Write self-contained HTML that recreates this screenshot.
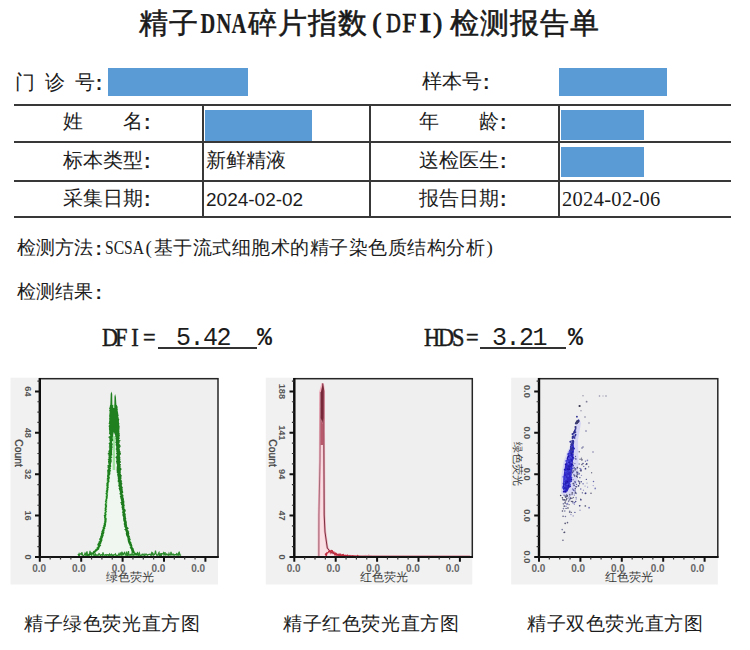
<!DOCTYPE html>
<html><head><meta charset="utf-8">
<style>
html,body{margin:0;padding:0;}
body{width:750px;height:650px;background:#fff;position:relative;overflow:hidden;font-family:"Liberation Sans",sans-serif;color:#1c1c1c;}
.t{position:absolute;white-space:nowrap;line-height:1;}
.title{top:8px;font-family:"Liberation Serif",serif;font-weight:normal;-webkit-text-stroke:0.5px #111;font-size:29px;letter-spacing:1px;}
.tl span{display:inline-block;width:16.4px;text-align:center;transform:scaleX(0.72);font-weight:bold;font-size:28px;letter-spacing:0;-webkit-text-stroke:0.2px #111;}
.f{font-size:19.5px;}
.box{position:absolute;background:#5b9bd5;}
.hl{position:absolute;left:14px;width:717px;height:2px;background:#383838;}
.vl{position:absolute;top:104px;width:2px;height:114px;background:#383838;}
.d{font-size:19px;}
.m{font-family:"Liberation Mono",monospace;}
.ul{position:absolute;height:1.5px;background:#333;}
.g{font-size:19px;}
.sc span{display:inline-block;transform-origin:0 0;font-family:"Liberation Serif",serif;font-size:19.5px;}
.sf{font-family:"Liberation Serif",serif;font-size:26px;-webkit-text-stroke:0.5px #1c1c1c;}
.sf span{display:inline-block;width:13.9px;text-align:center;transform:scaleX(0.86);}
.cl{position:relative;top:1px;font-weight:bold;margin-left:1px;}
.dna span{width:15.8px;font-size:30px;transform:scaleX(0.68);}
.dfi span{font-weight:normal;-webkit-text-stroke:0.75px #111;}
.cap{font-size:19px;letter-spacing:0.6px;}
svg{position:absolute;left:0;top:0;}
</style></head><body>
<div class="t title" style="left:138.5px;top:9px;">精子</div>
<div class="t title tl dna" style="left:197.8px;"><span>D</span><span>N</span><span>A</span></div>
<div class="t title" style="left:247.8px;top:9px;">碎片指数</div>
<div class="t title tl dfi" style="left:367.8px;"><span style="transform:none;position:relative;left:1px">(</span><span style="position:relative;left:-0.5px">D</span><span style="transform:scaleX(0.9)">F</span><span style="transform:scaleX(1.3);position:relative;left:0.5px">I</span><span style="transform:none;position:relative;left:-4px">)</span></div>
<div class="t title" style="left:449.6px;top:9px;">检测报告单</div>

<div class="t f" style="left:15px;top:73px;word-spacing:4.5px;">门 诊 号<span class="cl">:</span></div>
<div class="box" style="left:108px;top:68px;width:140px;height:28px;"></div>
<div class="t f" style="left:422px;top:72px;">样本号<span class="cl">:</span></div>
<div class="box" style="left:559px;top:68px;width:108px;height:28px;"></div>

<div class="hl" style="top:103.5px"></div>
<div class="hl" style="top:141px"></div>
<div class="hl" style="top:179.5px"></div>
<div class="hl" style="top:216px"></div>
<div class="vl" style="left:202px"></div>
<div class="vl" style="left:368.5px"></div>
<div class="vl" style="left:558px"></div>

<div class="t f" style="left:63px;top:112px;">姓&#12288;&#12288;名<span class="cl">:</span></div>
<div class="box" style="left:205px;top:110px;width:107px;height:31px;"></div>
<div class="t f" style="left:419px;top:112px;">年&#12288;&#12288;龄<span class="cl">:</span></div>
<div class="box" style="left:561px;top:110px;width:83px;height:30px;"></div>

<div class="t f" style="left:63px;top:151px;">标本类型<span class="cl">:</span></div>
<div class="t f" style="left:205.5px;top:151px;">新鲜精液</div>
<div class="t f" style="left:419px;top:151px;">送检医生<span class="cl">:</span></div>
<div class="box" style="left:561px;top:147px;width:83px;height:30px;"></div>

<div class="t f" style="left:63px;top:189px;">采集日期<span class="cl">:</span></div>
<div class="t d" style="left:206px;top:190px;">2024-02-02</div>
<div class="t f" style="left:419px;top:189px;">报告日期<span class="cl">:</span></div>
<div class="t" style="left:562px;top:189px;font-size:20.5px;font-family:'Liberation Serif',serif;letter-spacing:0.3px;">2024-02-06</div>

<div class="t g" style="left:16.5px;top:238px;">检测方法<span class="cl" style="margin-left:3px">:</span></div>
<div class="t g sc" style="left:105px;top:238px;"><span style="transform:scaleX(0.80)">SCSA</span></div>
<div class="t g" style="left:145.5px;top:238px;font-family:'Liberation Serif',serif;">(</div>
<div class="t g" style="left:153.5px;top:238px;letter-spacing:0.5px;">基于流式细胞术的精子染色质结构分析</div>
<div class="t g" style="left:486.5px;top:238px;font-family:'Liberation Serif',serif;">)</div>
<div class="t g" style="left:16.5px;top:281.5px;">检测结果<span class="cl" style="margin-left:3px">:</span></div>

<div class="t sf" style="left:100.5px;top:325px;"><span>D</span><span>F</span><span>I</span><span>=</span></div>
<div class="t m" style="left:176px;top:326px;font-size:25px;letter-spacing:-1.5px;">5.42</div>
<div class="t m" style="left:257px;top:326px;font-size:25px;font-weight:bold;">%</div>
<div class="ul" style="left:158px;top:347px;width:99px;"></div>
<div class="t sf" style="left:422.5px;top:325px;"><span style="width:14.2px">H</span><span style="width:14.2px">D</span><span style="width:14.2px">S</span><span style="width:14.2px">=</span></div>
<div class="t m" style="left:492px;top:326px;font-size:25px;letter-spacing:-1.5px;">3.21</div>
<div class="t m" style="left:568px;top:326px;font-size:25px;font-weight:bold;">%</div>
<div class="ul" style="left:480px;top:347px;width:86px;"></div>

<div class="t cap" style="left:24px;top:614px;">精子绿色荧光直方图</div>
<div class="t cap" style="left:283px;top:614px;">精子红色荧光直方图</div>
<div class="t cap" style="left:527px;top:614px;">精子双色荧光直方图</div>

<!--CHARTS-->
<svg width="750" height="650" viewBox="0 0 750 650" style="position:absolute;left:0;top:0">
<rect x="10.5" y="377.7" width="207.5" height="206.8" fill="#f1f1f1"/>
<rect x="39.8" y="378.7" width="178.2" height="178.3" fill="#efefef"/>
<rect x="265.8" y="377.7" width="206.5" height="206.8" fill="#f1f1f1"/>
<rect x="294.3" y="378.7" width="178" height="178.3" fill="#efefef"/>
<rect x="511.2" y="377.7" width="206.6" height="206.8" fill="#f1f1f1"/>
<rect x="539" y="378.7" width="178.8" height="178.3" fill="#efefef"/>
<path d="M111.2,406 L111.14,409 L111.07,412 L111.01,415 L110.95,418 L110.88,421 L110.82,424 L110.85,427 L110.93,430 L111.01,433 L111.09,436 L111.17,439 L111.06,442 L110.86,445 L110.66,448 L110.45,451 L110.25,454 L110.05,457 L109.84,460 L109.64,463 L109.44,466 L109.19,469 L108.88,472 L108.56,475 L108.24,478 L107.92,481 L107.6,484 L107.37,487 L107.14,490 L106.91,493 L106.69,496 L106.46,499 L106.23,502 L106,505 L105.87,508 L105.73,511 L105.6,514 L105.47,517 L105.33,520 L105.2,523 L104.44,526 L103.69,529 L102.93,532 L102.18,535 L101.34,538 L100.42,541 L99.5,544 L98.58,547 L96.22,550 L93.5,553 L86,556 L140,556 L133.5,553 L132.39,550 L131.31,547 L130.36,544 L129.42,541 L128.47,538 L127.69,535 L127.07,532 L126.44,529 L125.82,526 L125.2,523 L124.83,520 L124.47,517 L124.1,514 L123.73,511 L123.37,508 L123,505 L122.57,502 L122.14,499 L121.71,496 L121.29,493 L120.86,490 L120.43,487 L120,484 L119.76,481 L119.52,478 L119.28,475 L119.04,472 L118.8,469 L118.68,466 L118.55,463 L118.43,460 L118.3,457 L118.18,454 L118.06,451 L117.93,448 L117.81,445 L117.68,442 L117.6,439 L117.6,436 L117.6,433 L117.6,430 L117.6,427 L117.52,424 L117.26,421 L117.01,418 L116.76,415 L116.51,412 L116.25,409 L116,406Z" fill="#f0f6f0" stroke="#a6eaa6" stroke-width="2.6" stroke-linejoin="round"/>
<path d="M78,554.01 L78.5,555.11 L79,553.87 L79.5,555.51 L80,554.02 L80.5,553.92 L81,553.61 L81.5,554.32 L82,552.26 L82.5,555.22 L83,555.48 L83.5,555.41 L84,555.24 L84.5,554.7 L85,553.27 L85.5,554.69 L86,553.68 L86.5,555.6 L87,551.31 L87.5,555.54 L88,555.23 L88.5,554.74 L89,555.47 L89.5,554.29 L90,550.93 L90.5,554.94 L91,552.02 L91.5,554.92 L92,554.05 L92.5,553.96 L93,553.94 L93.5,552.69 L94,555.59 L94.5,555 L95,554.87 L95.5,554.1 L96,555.52 L96.5,554.92 L97,554.81 L97.5,555.17 L98,555.24 L98.5,554.55 L99,553.59 L99.5,554.03 L100,554.7 L100.5,555.54 L101,555.08 L101.5,554.64 L102,554.76 L102.5,555.12 L103,552.45 L103.5,554.65 L104,555.05 L104.5,554.99 L105,555.19 L105.5,554.7 L106,554.8 L106.5,555.29 L107,554.52 L107.5,554.78 L108,554.67 L108.5,555.38 L109,554.82 L109.5,554.03 L110,555.51 L110.5,555.12 L111,554.52 L111.5,554.16 L112,555.53 L112.5,555.37 L113,554.85 L113.5,555.3 L114,554.77 L114.5,554.69 L115,554.5 L115.5,553.94 L116,555.36 L116.5,555.55 L117,555.34 L117.5,555.54 L118,555.46 L118.5,554.47 L119,553.56 L119.5,554.99 L120,554.94 L120.5,553.39 L121,554.49 L121.5,553.03 L122,554.95 L122.5,553.09 L123,554.33 L123.5,554.44 L124,552.97 L124.5,552.44 L125,553.98 L125.5,554.23 L126,555.31 L126.5,551.53 L127,554.67 L127.5,555.49 L128,553.4 L128.5,551.12 L129,555.22 L129.5,554.81 L130,554.85 L130.5,554.41 L131,555.16 L131.5,554.85 L132,553.3 L132.5,554.23 L133,555.31 L133.5,554.96 L134,554.41 L134.5,553.93 L135,554.91 L135.5,554.36 L136,554.04 L136.5,554.66 L137,553.64 L137.5,552.48 L138,553.01 L138.5,555.08 L139,554.59 L139.5,553.14 L140,555.32 L140.5,555.52 L141,555.34 L141.5,555.29 L142,554.3 L142.5,554.22 L143,555.25 L143.5,554.81 L144,554.13 L144.5,555.5 L145,555.43 L145.5,554.41 L146,553.96 L146.5,554.16 L147,555.14 L147.5,555.29 L148,554.62 L148.5,554.56 L149,554.39 L149.5,554.42 L150,554.24 L150.5,555.1 L151,555.18 L151.5,553.24 L152,554.96 L152.5,552.88 L153,553.36 L153.5,555.07 L154,554.86 L154.5,554.65 L155,553.49 L155.5,550.58 L156,553.45 L156.5,554.69 L157,555.43 L157.5,554.9 L158,555.19 L158.5,553.15 L159,552.43 L159.5,555.45 L160,554.54 L160.5,555.42 L161,553.12 L161.5,555.24 L162,553.76 L162.5,553.89 L163,553.58 L163.5,552.84 L164,555.11 L164.5,554.07 L165,552.22 L165.5,555 L166,555.07 L166.5,554.01 L167,554.12 L167.5,554.95 L168,554.69 L168.5,555.12 L169,553.41 L169.5,554.63 L170,555.25 L170.5,554.83 L171,551.87 L171.5,553.96 L172,555.16 L172.5,554.54 L173,553.93 L173.5,554.31 L174,555.6 L174.5,554.74 L175,554.65 L175.5,554.65 L176,555.08 L176.5,553.84 L177,554.54 L177.5,554.16 L178,555.46 L178.5,553.23 L179,554.43 L179.5,552.9 L180,555.07 L180.5,555.15 L181,555.56" fill="none" stroke="#2b8a2b" stroke-width="1.2"/>
<path d="M110.21,405 L109.83,405.7 L109.96,406.4 L109.5,407.1 L109.65,407.8 L108.94,408.5 L109.87,409.2 L109.23,409.9 L109.26,410.6 L109.34,411.3 L109.93,412 L109.38,412.7 L109.54,413.4 L109.58,414.1 L109.33,414.8 L109.25,415.5 L109.27,416.2 L109.36,416.9 L109.75,417.6 L109.18,418.3 L109.29,419 L109.5,419.7 L109.59,420.4 L109.25,421.1 L109.1,421.8 L109.18,422.5 L108.47,423.2 L109.09,423.9 L110.14,424.6 L109.07,425.3 L108.58,426 L108.81,426.7 L109.01,427.4 L109.36,428.1 L108.82,428.8 L108.99,429.5 L109.37,430.2 L109.45,430.9 L109.52,431.6 L109.83,432.3 L108.78,433 L109.35,433.7 L110.07,434.4 L110.02,435.1 L110.57,435.8 L108.9,436.5 L108.06,437.2 L109.49,437.9 L109.22,438.6 L109.42,439.3 L109.61,440 L109.29,440.7 L109.8,441.4 L110.05,442.1 L109.11,442.8 L108.43,443.5 L109.4,444.2 L108.9,444.9 L109.17,445.6 L109.45,446.3 L108.45,447 L109.55,447.7 L109.33,448.4 L108.77,449.1 L109.53,449.8 L108.73,450.5 L108.27,451.2 L108.59,451.9 L108.71,452.6 L107.94,453.3 L107.51,454 L108.76,454.7 L108.22,455.4 L108.9,456.1 L108.52,456.8 L108.41,457.5 L108.77,458.2 L108.32,458.9 L107.53,459.6 L108.67,460.3 L107.92,461 L108.04,461.7 L108.45,462.4 L107.7,463.1 L108.79,463.8 L109.04,464.5 L107.26,465.2 L107.66,465.9 L107.63,466.6 L107.52,467.3 L107.52,468 L108.47,468.7 L107.68,469.4 L107.06,470.1 L107.26,470.8 L107.32,471.5 L107.18,472.2 L107.73,472.9 L107.33,473.6 L107.45,474.3 L107.4,475 L106.9,475.7 L107.01,476.4 L107.28,477.1 L107.47,477.8 L106.62,478.5 L107.58,479.2 L106.42,479.9 L107.21,480.6 L107.59,481.3 L106.97,482 L106.92,482.7 L106.32,483.4 L106.46,484.1 L106.62,484.8 L106.23,485.5 L106.9,486.2 L106.53,486.9 L106.85,487.6 L106.46,488.3 L106.22,489 L106.79,489.7 L105.82,490.4 L106.4,491.1 L105.59,491.8 L106.68,492.5 L105.37,493.2 L105.88,493.9 L106.17,494.6 L106.39,495.3 L106.2,496 L105.67,496.7 L106.05,497.4 L105.99,498.1 L105.97,498.8 L105.56,499.5 L105.43,500.2 L105.37,500.9 L104.71,501.6 L105.61,502.3 L105.58,503 L105.04,503.7 L104.59,504.4 L105.35,505.1 L104.84,505.8 L105.35,506.5 L105.03,507.2 L104.89,507.9 L104.48,508.6 L105.18,509.3 L104.48,510 L104.7,510.7 L105.69,511.4 L104.64,512.1 L104.7,512.8 L104.18,513.5 L105.15,514.2 L103.94,514.9 L103.69,515.6 L104.09,516.3 L104.24,517 L103.99,517.7 L104.45,518.4 L104.7,519.1 L104.28,519.8 L104.62,520.5 L104.33,521.2 L104.21,521.9 L104.48,522.6 L103.53,523.3 L104.17,524 L103.73,524.7 L103.32,525.4 L103.38,526.1 L103.37,526.8 L102.4,527.5 L102.93,528.2 L102.7,528.9 L102.32,529.6 L102.06,530.3 L101.62,531 L101.35,531.7 L101.67,532.4 L101.21,533.1 L100.9,533.8 L100.93,534.5 L101.2,535.2 L100.22,535.9 L100.32,536.6 L100.39,537.3 L99.86,538 L99.25,538.7 L99.22,539.4 L99.51,540.1 L100.02,540.8 L98.54,541.5 L98.66,542.2 L98.27,542.9 L97.88,543.6 L97.21,544.3 L97.55,545 L97.74,545.7 L97.99,546.4 L97.53,547.1 L96.43,547.8 L97.07,548.5 L95.45,549.2 L95.09,549.9 L94.75,550.6 L93.46,551.3 L92.74,552 L92.57,552.7 L91.52,553.4 L89.1,554.1 L87.68,554.8 L85.81,555.5 L89.17,555.5 L90.01,554.8 L91.75,554.1 L94.21,553.4 L95.23,552.7 L95.55,552 L96.56,551.3 L97.45,550.6 L98.24,549.9 L99.22,549.2 L99.27,548.5 L99.3,547.8 L99.92,547.1 L100,546.4 L101.33,545.7 L100.58,545 L100.39,544.3 L101.34,543.6 L101.32,542.9 L101.43,542.2 L101.9,541.5 L102.36,540.8 L102.4,540.1 L102.35,539.4 L101.95,538.7 L102.93,538 L102.83,537.3 L103.15,536.6 L103.63,535.9 L103.63,535.2 L103.27,534.5 L104.28,533.8 L103.89,533.1 L104.73,532.4 L103.66,531.7 L104.82,531 L104.28,530.3 L104.15,529.6 L105.16,528.9 L105.29,528.2 L104.81,527.5 L105.62,526.8 L105.74,526.1 L105.76,525.4 L106.05,524.7 L105.95,524 L105.75,523.3 L106.28,522.6 L106.25,521.9 L106.5,521.2 L106.42,520.5 L106.37,519.8 L106.96,519.1 L106.7,518.4 L105.66,517.7 L106.03,517 L105.77,516.3 L106.12,515.6 L105.99,514.9 L106.73,514.2 L105.57,513.5 L106.35,512.8 L106.01,512.1 L107.31,511.4 L106.09,510.7 L106.23,510 L106.93,509.3 L106.18,508.6 L106.56,507.9 L106.6,507.2 L107.08,506.5 L106.81,505.8 L106.98,505.1 L106.48,504.4 L106.41,503.7 L106.64,503 L106.95,502.3 L106.37,501.6 L107.08,500.9 L106.97,500.2 L106.79,499.5 L107.27,498.8 L107.59,498.1 L107.62,497.4 L107.27,496.7 L108.13,496 L107.67,495.3 L107.89,494.6 L107.24,493.9 L107.76,493.2 L107.96,492.5 L107.76,491.8 L108.23,491.1 L107.87,490.4 L108.6,489.7 L107.97,489 L108.31,488.3 L108.96,487.6 L108.33,486.9 L108.41,486.2 L108.54,485.5 L108.69,484.8 L108.37,484.1 L108.65,483.4 L108.52,482.7 L109.4,482 L109.46,481.3 L109.43,480.6 L108.81,479.9 L109.51,479.2 L109.51,478.5 L110.01,477.8 L109.45,477.1 L109.31,476.4 L109.27,475.7 L109.85,475 L110.33,474.3 L110.52,473.6 L110.03,472.9 L110.39,472.2 L110.34,471.5 L111.24,470.8 L110.23,470.1 L110.25,469.4 L111.04,468.7 L110.62,468 L110.41,467.3 L111.5,466.6 L110.9,465.9 L111.25,465.2 L110.62,464.5 L111.3,463.8 L110.9,463.1 L111.44,462.4 L111.69,461.7 L111.76,461 L111.63,460.3 L111.34,459.6 L111.9,458.9 L110.73,458.2 L112.46,457.5 L111.86,456.8 L110.9,456.1 L112,455.4 L112.29,454.7 L112.29,454 L111.96,453.3 L112.09,452.6 L112.24,451.9 L112.03,451.2 L112.03,450.5 L112.54,449.8 L112.01,449.1 L112.34,448.4 L112.41,447.7 L113.03,447 L112.17,446.3 L112.3,445.6 L112.62,444.9 L112.86,444.2 L112.52,443.5 L111.97,442.8 L111.98,442.1 L111.92,441.4 L113.33,440.7 L113.43,440 L113.08,439.3 L112.57,438.6 L112.93,437.9 L112.23,437.2 L112.46,436.5 L113.51,435.8 L111.76,435.1 L112.91,434.4 L112.36,433.7 L112.89,433 L112.95,432.3 L112.45,431.6 L112.74,430.9 L113.14,430.2 L111.67,429.5 L112.25,428.8 L113.24,428.1 L111.45,427.4 L112.27,426.7 L112.57,426 L112.49,425.3 L112.01,424.6 L111.8,423.9 L112.17,423.2 L112.67,422.5 L113.36,421.8 L112.77,421.1 L112.54,420.4 L111.95,419.7 L112.65,419 L113.1,418.3 L112.34,417.6 L111.96,416.9 L112.46,416.2 L112.89,415.5 L112.6,414.8 L113.77,414.1 L112.9,413.4 L112.66,412.7 L112.42,412 L112.98,411.3 L112.53,410.6 L112.18,409.9 L112.95,409.2 L112.38,408.5 L113.69,407.8 L112.73,407.1 L112.93,406.4 L113.15,405.7 L112.51,405Z" fill="#1f7f1f"/>
<path d="M114.88,405 L115.12,405.7 L115.39,406.4 L115.52,407.1 L114.81,407.8 L115.02,408.5 L115.66,409.2 L115.65,409.9 L115.24,410.6 L115.62,411.3 L114.96,412 L116.07,412.7 L116.37,413.4 L115.35,414.1 L115.9,414.8 L115.3,415.5 L115.81,416.2 L115.63,416.9 L116.01,417.6 L115.48,418.3 L115.66,419 L115.44,419.7 L116.28,420.4 L116.14,421.1 L115.17,421.8 L115.59,422.5 L115.88,423.2 L116.1,423.9 L114.85,424.6 L115.43,425.3 L115.95,426 L116.22,426.7 L115.94,427.4 L116.01,428.1 L115.31,428.8 L115.62,429.5 L115.28,430.2 L115.84,430.9 L115.95,431.6 L115.19,432.3 L115.59,433 L115.16,433.7 L115.51,434.4 L115.82,435.1 L116.23,435.8 L115.13,436.5 L115.66,437.2 L115.53,437.9 L115.29,438.6 L115.72,439.3 L115.49,440 L115.84,440.7 L115.75,441.4 L115.47,442.1 L115.28,442.8 L116.09,443.5 L115.33,444.2 L116.14,444.9 L115.5,445.6 L116.39,446.3 L115.86,447 L116.43,447.7 L116.06,448.4 L115.43,449.1 L116.19,449.8 L116.37,450.5 L116.19,451.2 L116.5,451.9 L116.79,452.6 L116.15,453.3 L115.84,454 L117.18,454.7 L116.36,455.4 L116.71,456.1 L115.74,456.8 L115.35,457.5 L116.14,458.2 L116.45,458.9 L116.29,459.6 L116.52,460.3 L116.19,461 L115.87,461.7 L116.32,462.4 L116.63,463.1 L116.38,463.8 L116.92,464.5 L117.05,465.2 L116.89,465.9 L116.89,466.6 L116.31,467.3 L117.23,468 L116.34,468.7 L116.73,469.4 L116.59,470.1 L116.64,470.8 L116.82,471.5 L116.56,472.2 L117.06,472.9 L117.77,473.6 L116.92,474.3 L117.48,475 L117.22,475.7 L117.71,476.4 L117.51,477.1 L117.98,477.8 L117.59,478.5 L118.27,479.2 L117.6,479.9 L117.84,480.6 L117.82,481.3 L117.58,482 L118.98,482.7 L118.3,483.4 L118.78,484.1 L118.53,484.8 L118.3,485.5 L118.24,486.2 L119.3,486.9 L119.27,487.6 L118.3,488.3 L119.22,489 L118.87,489.7 L119.53,490.4 L119.85,491.1 L119.66,491.8 L120.05,492.5 L119.64,493.2 L119.34,493.9 L119.95,494.6 L120.88,495.3 L119.95,496 L119.86,496.7 L120.59,497.4 L120.07,498.1 L120.73,498.8 L120.89,499.5 L120.71,500.2 L121.44,500.9 L121.41,501.6 L120.48,502.3 L120.32,503 L121.38,503.7 L120.82,504.4 L121.21,505.1 L122.13,505.8 L121.64,506.5 L121.52,507.2 L121.62,507.9 L122.05,508.6 L121.73,509.3 L122.5,510 L122.59,510.7 L122.6,511.4 L121.72,512.1 L122.36,512.8 L122.79,513.5 L122.13,514.2 L122.88,514.9 L122.25,515.6 L122.7,516.3 L123.26,517 L123.23,517.7 L123.21,518.4 L122.85,519.1 L123.44,519.8 L123.22,520.5 L123.7,521.2 L123.78,521.9 L124.27,522.6 L123.8,523.3 L123.77,524 L123.86,524.7 L124.56,525.4 L123.71,526.1 L124.55,526.8 L124.69,527.5 L125.44,528.2 L124.98,528.9 L123.89,529.6 L125.52,530.3 L125.23,531 L126.1,531.7 L125.99,532.4 L126.09,533.1 L125.6,533.8 L126.09,534.5 L125.98,535.2 L126.81,535.9 L126.73,536.6 L126.95,537.3 L127.88,538 L127.42,538.7 L127.55,539.4 L127.94,540.1 L127.63,540.8 L127.94,541.5 L128.32,542.2 L128.27,542.9 L128.65,543.6 L129.34,544.3 L129.16,545 L129.9,545.7 L130.41,546.4 L130.49,547.1 L129.5,547.8 L130.51,548.5 L131.08,549.2 L131.1,549.9 L131.33,550.6 L131.64,551.3 L131.61,552 L132.19,552.7 L133.99,553.4 L135.17,554.1 L135.26,554.8 L137.8,555.5 L140.11,555.5 L138.04,554.8 L137.52,554.1 L136.1,553.4 L135.25,552.7 L134.14,552 L134.8,551.3 L133.94,550.6 L134.03,549.9 L133.57,549.2 L133.81,548.5 L132.38,547.8 L132.92,547.1 L131.96,546.4 L132.37,545.7 L132.08,545 L131.94,544.3 L131.35,543.6 L131.2,542.9 L131.44,542.2 L130.42,541.5 L129.77,540.8 L130.56,540.1 L130.86,539.4 L129.84,538.7 L130.75,538 L129.28,537.3 L130.11,536.6 L129.83,535.9 L128.97,535.2 L129.05,534.5 L129.36,533.8 L129.2,533.1 L128.85,532.4 L129.38,531.7 L128.29,531 L128.52,530.3 L127.2,529.6 L128.08,528.9 L128.94,528.2 L127.94,527.5 L127.19,526.8 L126.75,526.1 L127.25,525.4 L126.85,524.7 L126.89,524 L126.64,523.3 L126.93,522.6 L126.54,521.9 L126.65,521.2 L126.24,520.5 L125.68,519.8 L126.34,519.1 L126.26,518.4 L125.9,517.7 L125.78,517 L125.75,516.3 L125.45,515.6 L125.75,514.9 L125.72,514.2 L125.32,513.5 L125.05,512.8 L124.8,512.1 L125.71,511.4 L125.63,510.7 L125.81,510 L125.09,509.3 L123.95,508.6 L125,507.9 L123.99,507.2 L124.21,506.5 L124.87,505.8 L124.46,505.1 L124.32,504.4 L124.41,503.7 L123.86,503 L124.61,502.3 L124.19,501.6 L124.53,500.9 L123.63,500.2 L124.06,499.5 L123.77,498.8 L123.81,498.1 L123.16,497.4 L123.53,496.7 L122.99,496 L123.87,495.3 L122.81,494.6 L122.25,493.9 L122.34,493.2 L123.41,492.5 L122.98,491.8 L123.21,491.1 L122.54,490.4 L122.47,489.7 L123.02,489 L122.12,488.3 L123.14,487.6 L122.23,486.9 L122.24,486.2 L121.79,485.5 L121.69,484.8 L122.52,484.1 L122.23,483.4 L122.07,482.7 L121.4,482 L122.32,481.3 L121.5,480.6 L121.76,479.9 L120.61,479.2 L121.58,478.5 L121.76,477.8 L120.74,477.1 L121.64,476.4 L122.05,475.7 L121.08,475 L121.13,474.3 L120.22,473.6 L120.98,472.9 L120.65,472.2 L120.71,471.5 L120.71,470.8 L120.97,470.1 L121.58,469.4 L121.54,468.7 L120.88,468 L120.34,467.3 L120.65,466.6 L120.73,465.9 L120.38,465.2 L121.2,464.5 L120.11,463.8 L119.81,463.1 L121.11,462.4 L120.78,461.7 L120.63,461 L119.88,460.3 L120.9,459.6 L119.74,458.9 L120.52,458.2 L120.49,457.5 L119.75,456.8 L120.34,456.1 L119.65,455.4 L120.63,454.7 L120.77,454 L121.02,453.3 L120.36,452.6 L120.44,451.9 L120.53,451.2 L119.78,450.5 L119.87,449.8 L119.83,449.1 L119.15,448.4 L120.38,447.7 L119.54,447 L121.2,446.3 L120.25,445.6 L120.28,444.9 L119.63,444.2 L119.08,443.5 L119.64,442.8 L119.69,442.1 L119.5,441.4 L120.95,440.7 L119.37,440 L118.98,439.3 L119.85,438.6 L119.76,437.9 L119.26,437.2 L119.48,436.5 L119.89,435.8 L119.65,435.1 L119.36,434.4 L119.65,433.7 L119.5,433 L118.01,432.3 L119.25,431.6 L119.17,430.9 L118.41,430.2 L119.32,429.5 L118.62,428.8 L119.77,428.1 L118.99,427.4 L119.54,426.7 L119.16,426 L118.77,425.3 L118.4,424.6 L118.98,423.9 L119.64,423.2 L118.56,422.5 L118.54,421.8 L118.77,421.1 L118.84,420.4 L119.37,419.7 L118.94,419 L118.42,418.3 L118.71,417.6 L117.78,416.9 L118.5,416.2 L118.51,415.5 L118.73,414.8 L117.59,414.1 L118.35,413.4 L118.14,412.7 L117.58,412 L117.87,411.3 L117.39,410.6 L117.66,409.9 L117.81,409.2 L117.33,408.5 L117.52,407.8 L117.56,407.1 L117.45,406.4 L116.79,405.7 L116.85,405Z" fill="#1d7a1d"/>
<path d="M110.2,408 L110.7,394 L111.4,391.6 L112.2,394 L112.4,408 L114.3,408 L114.5,396.5 L115.1,394 L115.9,397 L116.6,408 L118.2,418 L119.4,426 L119.2,436 L116.2,438 L113.8,432 L112.6,438 L109.4,434 L109.6,420 Z" fill="#208020"/>
<path d="M113,436 L115,436 L115.2,470 L112.6,470 Z" fill="#7fdc7f" opacity="0.7"/>
<path d="M318.8,556 L318.9,515 L320,460 L320.4,392 L322.7,383.4 L323.8,391 L323.8,430 L324.2,515 L325,532 L327.3,548 L331,552.5 L337,554.5 L346,555.8 L356,556.5" fill="#f9e0e5" stroke="#f2b0be" stroke-width="2.4"/>
<path d="M318.8,556 L318.9,515 L320,460 L320.4,392" fill="none" stroke="#9a6472" stroke-width="0.9"/>
<path d="M322.7,383.4 L323.8,391 L323.8,430 L324.2,515 L325,532 L327.3,548 L331,552.5 L337,554.5 L346,555.8 L356,556.5" fill="none" stroke="#7a3040" stroke-width="1"/>
<path d="M320.9,392 L322.7,383.4 L323.5,391 L323.4,418 L322.4,424 L320.7,418 Z" fill="#782838"/>
<path d="M320.7,418 L322.4,424 L323.4,418 L323.5,445 L320.5,445 Z" fill="#b85a6c"/>
<path d="M325,554.66 L325.4,554.06 L325.8,555.07 L326.2,554.05 L326.6,555.13 L327,552.69 L327.4,552.98 L327.8,552.99 L328.2,552.42 L328.6,551.64 L329,551.07 L329.4,551.09 L329.8,551.58 L330.2,552.73 L330.6,550.95 L331,550.47 L331.4,550.35 L331.8,551.72 L332.2,550.15 L332.6,552.22 L333,552.65 L333.4,552.2 L333.8,551.93 L334.2,553.25 L334.6,554.31 L335,555.14 L335.4,552.61 L335.8,554.08 L336.2,553.65 L336.6,555.11 L337,554.36 L337.4,554.91 L337.8,555.24 L338.2,556 L338.6,556 L339,554.67 L339.4,556 L339.8,556 L340.2,554.43 L340.6,555.28 L341,556 L341.4,556 L341.8,556 L342.2,554.04 L342.6,556 L343,555.85 L343.4,554.58 L343.8,555.1 L344.2,555.43 L344.6,556 L345,555.78 L345.4,556 L345.8,555.4 L346.2,556 L346.6,555.99 L347,555.45 L347.4,555.15 L347.8,556 L348.2,555.97 L348.6,556 L349,556 L349.4,555.77 L349.8,555.85 L350.2,556 L350.6,555.92 L351,556 L351.4,556 L351.8,556 L352.2,556 L352.6,555.7 L353,555.96 L353.4,556 L353.8,555.92 L354.2,556 L354.6,555.94 L355,556 L355.4,555.99 L355.8,556 L356.2,555.95 L356.6,556 L357,555.93 L357.4,556 L357.8,555.48 L358.2,556 L358.6,556 L359,556 L359.4,556 L359.8,556 L360.2,555.92 L360.6,555.73 L361,556 L361.4,556 L361.8,556 L362.2,555.94 L362.6,556 L363,556 L363.4,556 L363.8,556 L364.2,555.88 L364.6,555.7 L365,556 L365.4,556 L365.8,555.56 L366.2,555.84 L366.6,555.96 L367,556 L367.4,556 L367.8,556 L368.2,555.37 L368.6,555.88 L369,555.84 L369.4,555.94 L369.8,555.55 L370.2,556 L370.6,555.99 L371,556 L371.4,556 L371.8,555.98" fill="none" stroke="#c02a3c" stroke-width="1.1"/>
<path d="M360,555.6 L470,555.8" stroke="#d89aa6" stroke-width="1"/>
<path d="M569,448 L572.5,438 L576,424 L579,418 L581,423 L578,440 L578.5,462 L577.5,480 L574.5,495 L566,498 L561,493 L561,478 L563.5,462 L567,452 Z" fill="#d6d6f4"/>
<path d="M572,445 L573.6,442 L574,449 L573.4,458 L572.4,466 L571.4,477 L569.5,487 L567.5,491.5 L564.5,492.5 L562.8,488 L563.4,477 L565,466 L567.5,456 L570,449 Z" fill="#3026c4"/>
<circle cx="568.16" cy="475.91" r="0.85" fill="#5050e0"/>
<circle cx="567.54" cy="458.15" r="0.85" fill="#1c10a8"/>
<circle cx="571.44" cy="460.41" r="0.85" fill="#2020b0"/>
<circle cx="571.57" cy="477.58" r="0.85" fill="#3a3ad0"/>
<circle cx="571.77" cy="453.34" r="0.85" fill="#2020b0"/>
<circle cx="565.27" cy="483.03" r="0.85" fill="#2020b0"/>
<circle cx="571.83" cy="459.14" r="0.85" fill="#2020b0"/>
<circle cx="568.82" cy="456.9" r="0.85" fill="#5050e0"/>
<circle cx="571.01" cy="478.48" r="0.85" fill="#3a3ad0"/>
<circle cx="570.13" cy="486.36" r="0.85" fill="#1c10a8"/>
<circle cx="565.07" cy="486.74" r="0.85" fill="#2020b0"/>
<circle cx="570.06" cy="469.57" r="0.85" fill="#1c10a8"/>
<circle cx="573.14" cy="453.48" r="0.85" fill="#2020b0"/>
<circle cx="570.82" cy="448.46" r="0.85" fill="#2020b0"/>
<circle cx="571.23" cy="457.64" r="0.85" fill="#5050e0"/>
<circle cx="565.9" cy="478.92" r="0.85" fill="#5050e0"/>
<circle cx="564.4" cy="485.38" r="0.85" fill="#3a3ad0"/>
<circle cx="567.55" cy="472.1" r="0.85" fill="#3a3ad0"/>
<circle cx="570.77" cy="474.66" r="0.85" fill="#3a3ad0"/>
<circle cx="570.7" cy="451.76" r="0.85" fill="#5050e0"/>
<circle cx="568.47" cy="456.63" r="0.85" fill="#1c10a8"/>
<circle cx="570.4" cy="467.7" r="0.85" fill="#3a3ad0"/>
<circle cx="568.64" cy="458.33" r="0.85" fill="#5050e0"/>
<circle cx="566.95" cy="475.05" r="0.85" fill="#3a3ad0"/>
<circle cx="572.91" cy="448.24" r="0.85" fill="#1c10a8"/>
<circle cx="564.26" cy="486.06" r="0.85" fill="#5050e0"/>
<circle cx="571.44" cy="479.64" r="0.85" fill="#1c10a8"/>
<circle cx="572.47" cy="464.61" r="0.85" fill="#2020b0"/>
<circle cx="568.47" cy="453.88" r="0.85" fill="#2020b0"/>
<circle cx="569.61" cy="482.82" r="0.85" fill="#5050e0"/>
<circle cx="571.98" cy="456.29" r="0.85" fill="#2020b0"/>
<circle cx="571.04" cy="481.21" r="0.85" fill="#2020b0"/>
<circle cx="565.1" cy="477.05" r="0.85" fill="#5050e0"/>
<circle cx="564.12" cy="482.81" r="0.85" fill="#3a3ad0"/>
<circle cx="567.17" cy="484.36" r="0.85" fill="#5050e0"/>
<circle cx="565.99" cy="486.5" r="0.85" fill="#3a3ad0"/>
<circle cx="566.17" cy="460.89" r="0.85" fill="#3a3ad0"/>
<circle cx="569.47" cy="458.59" r="0.85" fill="#5050e0"/>
<circle cx="570.42" cy="456.47" r="0.85" fill="#5050e0"/>
<circle cx="568.82" cy="471.37" r="0.85" fill="#3a3ad0"/>
<circle cx="573.65" cy="448.96" r="0.85" fill="#5050e0"/>
<circle cx="563.26" cy="476.83" r="0.85" fill="#5050e0"/>
<circle cx="572.85" cy="468.24" r="0.85" fill="#3a3ad0"/>
<circle cx="565.24" cy="491.62" r="0.85" fill="#1c10a8"/>
<circle cx="571.63" cy="465.07" r="0.85" fill="#2020b0"/>
<circle cx="565.87" cy="471.64" r="0.85" fill="#5050e0"/>
<circle cx="573.2" cy="458.75" r="0.85" fill="#3a3ad0"/>
<circle cx="565.39" cy="491.74" r="0.85" fill="#1c10a8"/>
<circle cx="568.18" cy="454.09" r="0.85" fill="#3a3ad0"/>
<circle cx="569.87" cy="470.79" r="0.85" fill="#5050e0"/>
<circle cx="571.48" cy="462.51" r="0.85" fill="#5050e0"/>
<circle cx="571.69" cy="448.9" r="0.85" fill="#3a3ad0"/>
<circle cx="571.22" cy="448.93" r="0.85" fill="#5050e0"/>
<circle cx="569.17" cy="483.27" r="0.85" fill="#2020b0"/>
<circle cx="571.67" cy="464.37" r="0.85" fill="#1c10a8"/>
<circle cx="566.06" cy="489.06" r="0.85" fill="#2020b0"/>
<circle cx="573.09" cy="457.52" r="0.85" fill="#1c10a8"/>
<circle cx="570.84" cy="446.44" r="0.85" fill="#5050e0"/>
<circle cx="568.24" cy="463.87" r="0.85" fill="#5050e0"/>
<circle cx="565.8" cy="483.29" r="0.85" fill="#2020b0"/>
<circle cx="567.8" cy="462.29" r="0.85" fill="#5050e0"/>
<circle cx="566.05" cy="473.33" r="0.85" fill="#3a3ad0"/>
<circle cx="564.83" cy="480.12" r="0.85" fill="#3a3ad0"/>
<circle cx="569.88" cy="471.13" r="0.85" fill="#3a3ad0"/>
<circle cx="566.91" cy="461.98" r="0.85" fill="#5050e0"/>
<circle cx="569.01" cy="462.12" r="0.85" fill="#1c10a8"/>
<circle cx="565.6" cy="464.39" r="0.85" fill="#1c10a8"/>
<circle cx="570.06" cy="460.79" r="0.85" fill="#3a3ad0"/>
<circle cx="570.84" cy="446.96" r="0.85" fill="#1c10a8"/>
<circle cx="563.94" cy="480.69" r="0.85" fill="#5050e0"/>
<circle cx="572.82" cy="465.78" r="0.85" fill="#3a3ad0"/>
<circle cx="570.97" cy="468.97" r="0.85" fill="#3a3ad0"/>
<circle cx="563.48" cy="483.38" r="0.85" fill="#2020b0"/>
<circle cx="564.93" cy="489.59" r="0.85" fill="#3a3ad0"/>
<circle cx="567.25" cy="481.77" r="0.85" fill="#1c10a8"/>
<circle cx="571.91" cy="452.81" r="0.85" fill="#2020b0"/>
<circle cx="563.14" cy="487.91" r="0.85" fill="#5050e0"/>
<circle cx="569.06" cy="486.83" r="0.85" fill="#2020b0"/>
<circle cx="569.17" cy="469.22" r="0.85" fill="#1c10a8"/>
<circle cx="572.63" cy="451.59" r="0.85" fill="#2020b0"/>
<circle cx="568.74" cy="466.06" r="0.85" fill="#2020b0"/>
<circle cx="567.58" cy="469.07" r="0.85" fill="#1c10a8"/>
<circle cx="564.62" cy="469.7" r="0.85" fill="#2020b0"/>
<circle cx="569.71" cy="466.55" r="0.85" fill="#1c10a8"/>
<circle cx="563.77" cy="488.85" r="0.85" fill="#2020b0"/>
<circle cx="567.89" cy="461.09" r="0.85" fill="#5050e0"/>
<circle cx="570.66" cy="454.66" r="0.85" fill="#2020b0"/>
<circle cx="574.03" cy="448.41" r="0.85" fill="#2020b0"/>
<circle cx="569.86" cy="451.11" r="0.85" fill="#3a3ad0"/>
<circle cx="569.07" cy="484.15" r="0.85" fill="#5050e0"/>
<circle cx="563.63" cy="491.71" r="0.85" fill="#1c10a8"/>
<circle cx="565.27" cy="478.74" r="0.85" fill="#5050e0"/>
<circle cx="569.2" cy="466.89" r="0.85" fill="#2020b0"/>
<circle cx="569.45" cy="455.02" r="0.85" fill="#3a3ad0"/>
<circle cx="572.02" cy="449.38" r="0.85" fill="#2020b0"/>
<circle cx="563.35" cy="486.33" r="0.85" fill="#2020b0"/>
<circle cx="568.67" cy="485.33" r="0.85" fill="#1c10a8"/>
<circle cx="564.17" cy="482.65" r="0.85" fill="#5050e0"/>
<circle cx="569.95" cy="454.21" r="0.85" fill="#5050e0"/>
<circle cx="564.28" cy="489.94" r="0.85" fill="#5050e0"/>
<circle cx="569.76" cy="451.4" r="0.85" fill="#2020b0"/>
<circle cx="572.87" cy="447.43" r="0.85" fill="#2020b0"/>
<circle cx="563.28" cy="487.48" r="0.85" fill="#3a3ad0"/>
<circle cx="566.89" cy="470.48" r="0.85" fill="#3a3ad0"/>
<circle cx="572.48" cy="471.76" r="0.85" fill="#2020b0"/>
<circle cx="571.57" cy="446.71" r="0.85" fill="#5050e0"/>
<circle cx="570.08" cy="484.85" r="0.85" fill="#3a3ad0"/>
<circle cx="564.72" cy="477.96" r="0.85" fill="#3a3ad0"/>
<circle cx="571.45" cy="453.89" r="0.85" fill="#1c10a8"/>
<circle cx="569.27" cy="451.94" r="0.85" fill="#5050e0"/>
<circle cx="573.2" cy="436.33" r="0.9" fill="#30309a"/>
<circle cx="574.28" cy="432.7" r="0.9" fill="#40409a"/>
<circle cx="575.63" cy="428.28" r="0.9" fill="#40409a"/>
<circle cx="572.95" cy="441.85" r="0.9" fill="#3030a0"/>
<circle cx="571.79" cy="448.73" r="0.9" fill="#3030a0"/>
<circle cx="571.05" cy="447.44" r="0.9" fill="#40409a"/>
<circle cx="578.51" cy="421.59" r="0.9" fill="#262690"/>
<circle cx="575.73" cy="423.41" r="0.9" fill="#262690"/>
<circle cx="573.43" cy="441.79" r="0.9" fill="#40409a"/>
<circle cx="573.15" cy="436.5" r="0.9" fill="#30309a"/>
<circle cx="574.48" cy="432.25" r="0.9" fill="#262690"/>
<circle cx="574.07" cy="436.8" r="0.9" fill="#40409a"/>
<circle cx="573.08" cy="443.34" r="0.9" fill="#30309a"/>
<circle cx="575.27" cy="435.67" r="0.9" fill="#30309a"/>
<circle cx="575.36" cy="429.69" r="0.9" fill="#40409a"/>
<circle cx="578.41" cy="420.45" r="0.9" fill="#262690"/>
<circle cx="572.53" cy="438.17" r="0.9" fill="#40409a"/>
<circle cx="572.58" cy="440.54" r="0.9" fill="#262690"/>
<circle cx="578.51" cy="420.69" r="0.9" fill="#262690"/>
<circle cx="573.19" cy="433.68" r="0.9" fill="#30309a"/>
<circle cx="576.92" cy="416.7" r="0.9" fill="#262690"/>
<circle cx="572.53" cy="436.93" r="0.9" fill="#262690"/>
<circle cx="574.56" cy="437.88" r="0.9" fill="#30309a"/>
<circle cx="570.58" cy="449.89" r="0.9" fill="#40409a"/>
<circle cx="575.48" cy="432.11" r="0.9" fill="#30309a"/>
<circle cx="573.18" cy="441" r="0.9" fill="#40409a"/>
<circle cx="577.11" cy="423.09" r="0.9" fill="#40409a"/>
<circle cx="570.32" cy="441.73" r="0.9" fill="#30309a"/>
<circle cx="571.73" cy="444.25" r="0.9" fill="#262690"/>
<circle cx="572.27" cy="449.73" r="0.9" fill="#40409a"/>
<circle cx="572.2" cy="444.37" r="0.9" fill="#3030a0"/>
<circle cx="571.2" cy="452.61" r="0.9" fill="#30309a"/>
<circle cx="572.88" cy="441.43" r="0.9" fill="#262690"/>
<circle cx="570.94" cy="449.05" r="0.9" fill="#30309a"/>
<circle cx="573.12" cy="441.61" r="0.9" fill="#30309a"/>
<circle cx="574.76" cy="430.62" r="0.9" fill="#30309a"/>
<circle cx="570.62" cy="441.55" r="0.9" fill="#30309a"/>
<circle cx="572.24" cy="442.69" r="0.9" fill="#30309a"/>
<circle cx="572.37" cy="434.12" r="0.9" fill="#262690"/>
<circle cx="575.59" cy="434.61" r="0.9" fill="#30309a"/>
<circle cx="572.26" cy="440.87" r="0.9" fill="#40409a"/>
<circle cx="572.82" cy="449.09" r="0.9" fill="#3030a0"/>
<circle cx="571.27" cy="444.46" r="0.9" fill="#30309a"/>
<circle cx="571.48" cy="445.45" r="0.9" fill="#3030a0"/>
<circle cx="572.86" cy="437.26" r="0.9" fill="#30309a"/>
<circle cx="577.5" cy="421.6" r="1.6" fill="#3a3a6a"/>
<circle cx="576.5" cy="423" r="1.3" fill="#404070"/>
<circle cx="579.6" cy="406" r="1.1" fill="#30304a"/>
<circle cx="586.6" cy="401.7" r="0.9" fill="#808098"/>
<circle cx="583" cy="395.8" r="0.8" fill="#a0a0b0"/>
<circle cx="599.5" cy="396" r="0.8" fill="#9090a8"/>
<circle cx="603" cy="396" r="0.7" fill="#b0b0c0"/>
<circle cx="606" cy="396" r="0.8" fill="#9090a8"/>
<circle cx="581" cy="410.8" r="0.7" fill="#9090a8"/>
<circle cx="585" cy="417" r="0.8" fill="#8080a0"/>
<circle cx="589" cy="423" r="0.8" fill="#8a8aa8"/>
<circle cx="586" cy="431" r="0.8" fill="#7070a0"/>
<circle cx="583" cy="447" r="0.8" fill="#7070a0"/>
<circle cx="593" cy="452" r="0.8" fill="#8080a8"/>
<circle cx="582" cy="448" r="0.8" fill="#6a6a98"/>
<circle cx="574.3" cy="432" r="1.1" fill="#303080"/>
<circle cx="575.5" cy="427" r="1.1" fill="#303080"/>
<circle cx="585.91" cy="464.61" r="0.65" fill="#6e6e88"/>
<circle cx="576.06" cy="497.28" r="0.65" fill="#6a6ab0"/>
<circle cx="575.81" cy="468.89" r="0.75" fill="#6a6ab0"/>
<circle cx="576.6" cy="486.72" r="0.75" fill="#4a4a90"/>
<circle cx="583.24" cy="483.74" r="0.75" fill="#9a9ac8"/>
<circle cx="574.33" cy="485.02" r="0.75" fill="#9a9ac8"/>
<circle cx="576.6" cy="471.95" r="0.65" fill="#6e6e88"/>
<circle cx="570.96" cy="514.38" r="0.75" fill="#9a9ac8"/>
<circle cx="581.46" cy="475.44" r="0.65" fill="#9a9ac8"/>
<circle cx="574.09" cy="485.61" r="0.75" fill="#4a4a90"/>
<circle cx="580.62" cy="499.05" r="0.65" fill="#5a5a78"/>
<circle cx="570.36" cy="498.29" r="0.85" fill="#4a4a90"/>
<circle cx="572.61" cy="501.67" r="0.85" fill="#5a5a78"/>
<circle cx="573.04" cy="503.05" r="0.75" fill="#8282c0"/>
<circle cx="593.23" cy="485.62" r="0.65" fill="#9a9ac8"/>
<circle cx="573.94" cy="474.76" r="0.85" fill="#6a6ab0"/>
<circle cx="585.75" cy="493.19" r="0.85" fill="#9a9ac8"/>
<circle cx="581.9" cy="464.48" r="0.85" fill="#6e6e88"/>
<circle cx="575.69" cy="501.5" r="0.75" fill="#4a4a90"/>
<circle cx="579.86" cy="477.67" r="0.65" fill="#4a4a90"/>
<circle cx="574.46" cy="495.08" r="0.65" fill="#8282c0"/>
<circle cx="587.43" cy="460.37" r="0.85" fill="#8282c0"/>
<circle cx="577.38" cy="467.71" r="0.85" fill="#5a5a78"/>
<circle cx="574.27" cy="467.64" r="0.75" fill="#8282c0"/>
<circle cx="572.04" cy="494.2" r="0.75" fill="#6e6e88"/>
<circle cx="572.55" cy="472.78" r="0.75" fill="#4a4a90"/>
<circle cx="574.7" cy="502.44" r="0.75" fill="#6a6ab0"/>
<circle cx="574.94" cy="481.4" r="0.65" fill="#5a5a78"/>
<circle cx="576.46" cy="493.56" r="0.65" fill="#8282c0"/>
<circle cx="583.44" cy="490.25" r="0.65" fill="#9a9ac8"/>
<circle cx="571.39" cy="501.4" r="0.65" fill="#5a5a78"/>
<circle cx="569.01" cy="500.21" r="0.75" fill="#9a9ac8"/>
<circle cx="587" cy="483.1" r="0.65" fill="#9a9ac8"/>
<circle cx="572.86" cy="462.92" r="0.65" fill="#4a4a90"/>
<circle cx="579.82" cy="505.72" r="0.75" fill="#6e6e88"/>
<circle cx="580.08" cy="459.23" r="0.75" fill="#6e6e88"/>
<circle cx="585.45" cy="461.21" r="0.65" fill="#6a6ab0"/>
<circle cx="578.44" cy="481.01" r="0.75" fill="#5a5a78"/>
<circle cx="573.5" cy="471.22" r="0.75" fill="#4a4a90"/>
<circle cx="569.06" cy="504.59" r="0.65" fill="#5a5a78"/>
<circle cx="570.42" cy="497.85" r="0.65" fill="#5a5a78"/>
<circle cx="581.92" cy="459.86" r="0.85" fill="#5a5a78"/>
<circle cx="579.39" cy="473.55" r="0.75" fill="#8282c0"/>
<circle cx="572.87" cy="471.23" r="0.75" fill="#8282c0"/>
<circle cx="576.71" cy="476.15" r="0.85" fill="#404080"/>
<circle cx="574.9" cy="463.57" r="0.65" fill="#6a6ab0"/>
<circle cx="566.48" cy="496.18" r="0.85" fill="#5a5a78"/>
<circle cx="574.9" cy="512.42" r="0.65" fill="#4a4a90"/>
<circle cx="566.41" cy="492.59" r="0.65" fill="#9a9ac8"/>
<circle cx="566.63" cy="499.53" r="0.65" fill="#4a4a90"/>
<circle cx="571.86" cy="498.26" r="0.85" fill="#6e6e88"/>
<circle cx="579.59" cy="505.77" r="0.75" fill="#4a4a90"/>
<circle cx="575.77" cy="486.65" r="0.75" fill="#6e6e88"/>
<circle cx="571.28" cy="512.47" r="0.65" fill="#5a5a78"/>
<circle cx="572.65" cy="470.23" r="0.85" fill="#404080"/>
<circle cx="580.03" cy="510.25" r="0.75" fill="#9a9ac8"/>
<circle cx="573.4" cy="483.5" r="0.85" fill="#8282c0"/>
<circle cx="566.84" cy="498.57" r="0.75" fill="#5a5a78"/>
<circle cx="567.02" cy="504.05" r="0.75" fill="#4a4a90"/>
<circle cx="585.32" cy="505.89" r="0.85" fill="#6e6e88"/>
<circle cx="585.05" cy="486.06" r="0.65" fill="#9a9ac8"/>
<circle cx="566.02" cy="506.25" r="0.75" fill="#8282c0"/>
<circle cx="574.32" cy="504.05" r="0.65" fill="#6a6ab0"/>
<circle cx="572.58" cy="470.66" r="0.85" fill="#8282c0"/>
<circle cx="579.53" cy="483.73" r="0.65" fill="#404080"/>
<circle cx="587.6" cy="487.07" r="0.65" fill="#8282c0"/>
<circle cx="575.24" cy="482.45" r="0.85" fill="#6a6ab0"/>
<circle cx="581.26" cy="470.75" r="0.65" fill="#4a4a90"/>
<circle cx="577.4" cy="477.18" r="0.65" fill="#5a5a78"/>
<circle cx="573.16" cy="515.9" r="0.65" fill="#8282c0"/>
<circle cx="582.99" cy="463.43" r="0.75" fill="#404080"/>
<circle cx="573.61" cy="490.18" r="0.85" fill="#6a6ab0"/>
<circle cx="575.55" cy="456.35" r="0.65" fill="#4a4a90"/>
<circle cx="566.07" cy="508.47" r="0.65" fill="#404080"/>
<circle cx="575.26" cy="488.63" r="0.75" fill="#404080"/>
<circle cx="586.71" cy="463.97" r="0.85" fill="#404080"/>
<circle cx="586.33" cy="479.31" r="0.65" fill="#404080"/>
<circle cx="573.37" cy="497.4" r="0.75" fill="#6e6e88"/>
<circle cx="583.76" cy="466.38" r="0.65" fill="#6a6ab0"/>
<circle cx="578.52" cy="485.83" r="0.85" fill="#404080"/>
<circle cx="572.25" cy="492.84" r="0.85" fill="#5a5a78"/>
<circle cx="574.96" cy="458.22" r="0.65" fill="#6a6ab0"/>
<circle cx="572.7" cy="489.36" r="0.75" fill="#4a4a90"/>
<circle cx="569.65" cy="512.12" r="0.85" fill="#6e6e88"/>
<circle cx="569.75" cy="494.7" r="0.85" fill="#6e6e88"/>
<circle cx="591.03" cy="493.27" r="0.75" fill="#5a5a78"/>
<circle cx="573.39" cy="453.59" r="0.75" fill="#8282c0"/>
<circle cx="595.23" cy="488.4" r="0.85" fill="#8282c0"/>
<circle cx="567.44" cy="503.63" r="0.85" fill="#8282c0"/>
<circle cx="581.18" cy="481.64" r="0.75" fill="#404080"/>
<circle cx="577.76" cy="472.34" r="0.75" fill="#404080"/>
<circle cx="575.62" cy="492.45" r="0.75" fill="#4a4a90"/>
<circle cx="580.55" cy="470.58" r="0.85" fill="#5a5a78"/>
<circle cx="574.69" cy="475.81" r="0.85" fill="#5a5a78"/>
<circle cx="575" cy="470.11" r="0.75" fill="#5a5a78"/>
<circle cx="573.22" cy="479.68" r="0.65" fill="#8282c0"/>
<circle cx="591.63" cy="472.73" r="0.65" fill="#6e6e88"/>
<circle cx="579.16" cy="464.01" r="0.65" fill="#6a6ab0"/>
<circle cx="575.14" cy="468.7" r="0.75" fill="#4a4a90"/>
<circle cx="577.4" cy="474.47" r="0.85" fill="#6e6e88"/>
<circle cx="578.96" cy="473.88" r="0.85" fill="#8282c0"/>
<circle cx="575.07" cy="491.01" r="0.65" fill="#4a4a90"/>
<circle cx="577.17" cy="472.85" r="0.85" fill="#4a4a90"/>
<circle cx="579.59" cy="482.97" r="0.75" fill="#5a5a78"/>
<circle cx="568.65" cy="497.97" r="0.65" fill="#8282c0"/>
<circle cx="588.66" cy="466.78" r="0.65" fill="#5a5a78"/>
<circle cx="566.27" cy="495.77" r="0.65" fill="#8282c0"/>
<circle cx="585.49" cy="468.64" r="0.85" fill="#404080"/>
<circle cx="585.43" cy="493.35" r="0.85" fill="#404080"/>
<circle cx="593.5" cy="481.44" r="0.75" fill="#6a6ab0"/>
<circle cx="582.97" cy="483.66" r="0.75" fill="#9a9ac8"/>
<circle cx="573.42" cy="483.54" r="0.85" fill="#5a5a78"/>
<circle cx="581.5" cy="458.18" r="0.65" fill="#6e6e88"/>
<circle cx="580.78" cy="488.88" r="0.75" fill="#6a6ab0"/>
<circle cx="572.55" cy="489.14" r="0.75" fill="#9a9ac8"/>
<circle cx="580.87" cy="499.77" r="0.85" fill="#404080"/>
<circle cx="569.61" cy="496.57" r="0.65" fill="#9a9ac8"/>
<circle cx="579.27" cy="451.65" r="0.75" fill="#6e6e88"/>
<circle cx="576.59" cy="484.33" r="0.65" fill="#4a4a90"/>
<circle cx="582.34" cy="492.83" r="0.65" fill="#404080"/>
<circle cx="574.26" cy="467.72" r="0.65" fill="#6e6e88"/>
<circle cx="580.92" cy="469.29" r="0.85" fill="#6a6ab0"/>
<circle cx="580.01" cy="468.44" r="0.75" fill="#6a6ab0"/>
<circle cx="589.09" cy="507.67" r="0.85" fill="#6a6ab0"/>
<circle cx="576.22" cy="498.92" r="0.65" fill="#8282c0"/>
<circle cx="573.36" cy="465.54" r="0.65" fill="#4a4a90"/>
<circle cx="575.89" cy="459.01" r="0.75" fill="#404080"/>
<circle cx="579.15" cy="481.66" r="0.75" fill="#4a4a90"/>
<circle cx="575.34" cy="492.98" r="0.85" fill="#5a5a78"/>
<circle cx="565.17" cy="523.41" r="0.8" fill="#505070"/>
<circle cx="563.46" cy="508.58" r="0.8" fill="#7878a0"/>
<circle cx="567.27" cy="495.89" r="0.8" fill="#404060"/>
<circle cx="562.45" cy="510.98" r="0.8" fill="#505070"/>
<circle cx="564.21" cy="506.13" r="0.8" fill="#505070"/>
<circle cx="565.23" cy="503.07" r="0.8" fill="#404060"/>
<circle cx="564.49" cy="499.83" r="0.8" fill="#404060"/>
<circle cx="562.4" cy="497.87" r="0.8" fill="#505070"/>
<circle cx="569.76" cy="499.73" r="0.8" fill="#7878a0"/>
<circle cx="562.95" cy="540.27" r="0.8" fill="#606080"/>
<circle cx="564.61" cy="532.19" r="0.8" fill="#505070"/>
<circle cx="564.09" cy="495.18" r="0.8" fill="#7878a0"/>
<circle cx="565.45" cy="500.97" r="0.8" fill="#606080"/>
<circle cx="563.08" cy="516.3" r="0.8" fill="#606080"/>
<circle cx="565.42" cy="516.57" r="0.8" fill="#7878a0"/>
<circle cx="567.49" cy="522.65" r="0.8" fill="#606080"/>
<circle cx="566.59" cy="494.74" r="0.8" fill="#7878a0"/>
<circle cx="568.62" cy="501.35" r="0.8" fill="#7878a0"/>
<circle cx="565.6" cy="497.24" r="0.8" fill="#606080"/>
<circle cx="562.19" cy="529.59" r="0.8" fill="#7878a0"/>
<circle cx="564.15" cy="532.52" r="0.8" fill="#505070"/>
<circle cx="565.09" cy="496.05" r="0.8" fill="#7878a0"/>
<circle cx="565.93" cy="496.62" r="0.8" fill="#606080"/>
<circle cx="560.67" cy="495.57" r="0.8" fill="#404060"/>
<circle cx="569.74" cy="511.19" r="0.8" fill="#7878a0"/>
<circle cx="566.23" cy="499.7" r="0.8" fill="#606080"/>
<circle cx="567.96" cy="507.93" r="0.8" fill="#404060"/>
<circle cx="563.77" cy="499.91" r="0.8" fill="#7878a0"/>
<circle cx="564.78" cy="510.93" r="0.8" fill="#7878a0"/>
<circle cx="563.35" cy="503.86" r="0.8" fill="#7878a0"/>
<circle cx="562.94" cy="499.66" r="0.8" fill="#606080"/>
<circle cx="564.88" cy="502.74" r="0.8" fill="#7878a0"/>
<rect x="39.8" y="378.7" width="178.2" height="178.3" fill="none" stroke="#262626" stroke-width="1.5"/>
<line x1="39.8" y1="378" x2="39.8" y2="558" stroke="#0d0d0d" stroke-width="2.4"/>
<line x1="38.8" y1="557" x2="218.7" y2="557" stroke="#141414" stroke-width="2.2"/>
<path d="M35,557H39.8M35,515.6H39.8M35,474.2H39.8M35,432.8H39.8M35,391.4H39.8M39.8,557V561.8M81.2,557V561.8M122.6,557V561.8M164,557V561.8M205.4,557V561.8" stroke="#111" stroke-width="2" fill="none"/>
<path d="M37.4,546.65H39.8M37.4,536.3H39.8M37.4,525.95H39.8M37.4,505.25H39.8M37.4,494.9H39.8M37.4,484.55H39.8M37.4,463.85H39.8M37.4,453.5H39.8M37.4,443.15H39.8M37.4,422.45H39.8M37.4,412.1H39.8M37.4,401.75H39.8M37.4,381.05H39.8M50.15,557V559.4M60.5,557V559.4M70.85,557V559.4M91.55,557V559.4M101.9,557V559.4M112.25,557V559.4M132.95,557V559.4M143.3,557V559.4M153.65,557V559.4M174.35,557V559.4M184.7,557V559.4M195.05,557V559.4" stroke="#333" stroke-width="1.2" fill="none"/>
<text x="39.2" y="571.6" font-size="10" fill="#666" text-anchor="middle" font-family="Liberation Sans, sans-serif" font-weight="bold">0.0</text>
<text x="78.95" y="571.6" font-size="10" fill="#666" text-anchor="middle" font-family="Liberation Sans, sans-serif" font-weight="bold">0.0</text>
<text x="118.7" y="571.6" font-size="10" fill="#666" text-anchor="middle" font-family="Liberation Sans, sans-serif" font-weight="bold">0.0</text>
<text x="158.45" y="571.6" font-size="10" fill="#666" text-anchor="middle" font-family="Liberation Sans, sans-serif" font-weight="bold">0.0</text>
<text x="198.2" y="571.6" font-size="10" fill="#666" text-anchor="middle" font-family="Liberation Sans, sans-serif" font-weight="bold">0.0</text>
<text transform="translate(24.6,557) rotate(90)" font-size="9.2" fill="#555" font-weight="bold" text-anchor="middle" font-family="Liberation Sans, sans-serif">0</text>
<text transform="translate(24.6,515.6) rotate(90)" font-size="9.2" fill="#555" font-weight="bold" text-anchor="middle" font-family="Liberation Sans, sans-serif">16</text>
<text transform="translate(24.6,474.2) rotate(90)" font-size="9.2" fill="#555" font-weight="bold" text-anchor="middle" font-family="Liberation Sans, sans-serif">32</text>
<text transform="translate(24.6,432.8) rotate(90)" font-size="9.2" fill="#555" font-weight="bold" text-anchor="middle" font-family="Liberation Sans, sans-serif">48</text>
<text transform="translate(24.6,391.4) rotate(90)" font-size="9.2" fill="#555" font-weight="bold" text-anchor="middle" font-family="Liberation Sans, sans-serif">64</text>
<text x="129.5" y="581.2" font-size="11.6" fill="#3a3a3a" text-anchor="middle" font-family="Liberation Sans, sans-serif">绿色荧光</text>
<text transform="translate(14.6,453) rotate(90)" font-size="10.3" fill="#444" text-anchor="middle" font-family="Liberation Sans, sans-serif" stroke="#444" stroke-width="0.3">Count</text>
<rect x="294.3" y="378.7" width="178" height="178.3" fill="none" stroke="#262626" stroke-width="1.5"/>
<line x1="294.3" y1="378" x2="294.3" y2="558" stroke="#0d0d0d" stroke-width="2.4"/>
<line x1="293.3" y1="557" x2="473" y2="557" stroke="#141414" stroke-width="2.2"/>
<path d="M289.5,557H294.3M289.5,515.6H294.3M289.5,474.2H294.3M289.5,432.8H294.3M289.5,391.4H294.3M294.3,557V561.8M335.7,557V561.8M377.1,557V561.8M418.5,557V561.8M459.9,557V561.8" stroke="#111" stroke-width="2" fill="none"/>
<path d="M291.9,546.65H294.3M291.9,536.3H294.3M291.9,525.95H294.3M291.9,505.25H294.3M291.9,494.9H294.3M291.9,484.55H294.3M291.9,463.85H294.3M291.9,453.5H294.3M291.9,443.15H294.3M291.9,422.45H294.3M291.9,412.1H294.3M291.9,401.75H294.3M291.9,381.05H294.3M304.65,557V559.4M315,557V559.4M325.35,557V559.4M346.05,557V559.4M356.4,557V559.4M366.75,557V559.4M387.45,557V559.4M397.8,557V559.4M408.15,557V559.4M428.85,557V559.4M439.2,557V559.4M449.55,557V559.4" stroke="#333" stroke-width="1.2" fill="none"/>
<text x="293.7" y="571.6" font-size="10" fill="#666" text-anchor="middle" font-family="Liberation Sans, sans-serif" font-weight="bold">0.0</text>
<text x="333.45" y="571.6" font-size="10" fill="#666" text-anchor="middle" font-family="Liberation Sans, sans-serif" font-weight="bold">0.0</text>
<text x="373.2" y="571.6" font-size="10" fill="#666" text-anchor="middle" font-family="Liberation Sans, sans-serif" font-weight="bold">0.0</text>
<text x="412.95" y="571.6" font-size="10" fill="#666" text-anchor="middle" font-family="Liberation Sans, sans-serif" font-weight="bold">0.0</text>
<text x="452.7" y="571.6" font-size="10" fill="#666" text-anchor="middle" font-family="Liberation Sans, sans-serif" font-weight="bold">0.0</text>
<text transform="translate(279.1,557) rotate(90)" font-size="9.2" fill="#555" font-weight="bold" text-anchor="middle" font-family="Liberation Sans, sans-serif">0</text>
<text transform="translate(279.1,515.6) rotate(90)" font-size="9.2" fill="#555" font-weight="bold" text-anchor="middle" font-family="Liberation Sans, sans-serif">47</text>
<text transform="translate(279.1,474.2) rotate(90)" font-size="9.2" fill="#555" font-weight="bold" text-anchor="middle" font-family="Liberation Sans, sans-serif">94</text>
<text transform="translate(279.1,432.8) rotate(90)" font-size="9.2" fill="#555" font-weight="bold" text-anchor="middle" font-family="Liberation Sans, sans-serif">141</text>
<text transform="translate(279.1,391.4) rotate(90)" font-size="9.2" fill="#555" font-weight="bold" text-anchor="middle" font-family="Liberation Sans, sans-serif">188</text>
<text x="383.9" y="581.2" font-size="11.6" fill="#3a3a3a" text-anchor="middle" font-family="Liberation Sans, sans-serif">红色荧光</text>
<text transform="translate(269.1,453) rotate(90)" font-size="10.3" fill="#444" text-anchor="middle" font-family="Liberation Sans, sans-serif" stroke="#444" stroke-width="0.3">Count</text>
<rect x="539" y="378.7" width="178.8" height="178.3" fill="none" stroke="#262626" stroke-width="1.5"/>
<line x1="539" y1="378" x2="539" y2="558" stroke="#0d0d0d" stroke-width="2.4"/>
<line x1="538" y1="557" x2="718.5" y2="557" stroke="#141414" stroke-width="2.2"/>
<path d="M534.2,557H539M534.2,515.6H539M534.2,474.2H539M534.2,432.8H539M534.2,391.4H539M539,557V561.8M580.4,557V561.8M621.8,557V561.8M663.2,557V561.8M704.6,557V561.8" stroke="#111" stroke-width="2" fill="none"/>
<path d="M536.6,546.65H539M536.6,536.3H539M536.6,525.95H539M536.6,505.25H539M536.6,494.9H539M536.6,484.55H539M536.6,463.85H539M536.6,453.5H539M536.6,443.15H539M536.6,422.45H539M536.6,412.1H539M536.6,401.75H539M536.6,381.05H539M549.35,557V559.4M559.7,557V559.4M570.05,557V559.4M590.75,557V559.4M601.1,557V559.4M611.45,557V559.4M632.15,557V559.4M642.5,557V559.4M652.85,557V559.4M673.55,557V559.4M683.9,557V559.4M694.25,557V559.4" stroke="#333" stroke-width="1.2" fill="none"/>
<text x="538.4" y="571.6" font-size="10" fill="#666" text-anchor="middle" font-family="Liberation Sans, sans-serif" font-weight="bold">0.0</text>
<text x="578.15" y="571.6" font-size="10" fill="#666" text-anchor="middle" font-family="Liberation Sans, sans-serif" font-weight="bold">0.0</text>
<text x="617.9" y="571.6" font-size="10" fill="#666" text-anchor="middle" font-family="Liberation Sans, sans-serif" font-weight="bold">0.0</text>
<text x="657.65" y="571.6" font-size="10" fill="#666" text-anchor="middle" font-family="Liberation Sans, sans-serif" font-weight="bold">0.0</text>
<text x="697.4" y="571.6" font-size="10" fill="#666" text-anchor="middle" font-family="Liberation Sans, sans-serif" font-weight="bold">0.0</text>
<text transform="translate(523.8,557) rotate(90)" font-size="9.2" fill="#555" font-weight="bold" text-anchor="middle" font-family="Liberation Sans, sans-serif">0.0</text>
<text transform="translate(523.8,515.6) rotate(90)" font-size="9.2" fill="#555" font-weight="bold" text-anchor="middle" font-family="Liberation Sans, sans-serif">0.0</text>
<text transform="translate(523.8,474.2) rotate(90)" font-size="9.2" fill="#555" font-weight="bold" text-anchor="middle" font-family="Liberation Sans, sans-serif">0.0</text>
<text transform="translate(523.8,432.8) rotate(90)" font-size="9.2" fill="#555" font-weight="bold" text-anchor="middle" font-family="Liberation Sans, sans-serif">0.0</text>
<text transform="translate(523.8,391.4) rotate(90)" font-size="9.2" fill="#555" font-weight="bold" text-anchor="middle" font-family="Liberation Sans, sans-serif">0.0</text>
<text x="629" y="581.2" font-size="11.6" fill="#3a3a3a" text-anchor="middle" font-family="Liberation Sans, sans-serif">红色荧光</text>
<text transform="translate(514.4,463.5) rotate(90)" font-size="10.6" fill="#3a3a3a" text-anchor="middle" font-family="Liberation Sans, sans-serif">绿色荧光</text>
</svg>
<!--/CHARTS-->
</body></html>
